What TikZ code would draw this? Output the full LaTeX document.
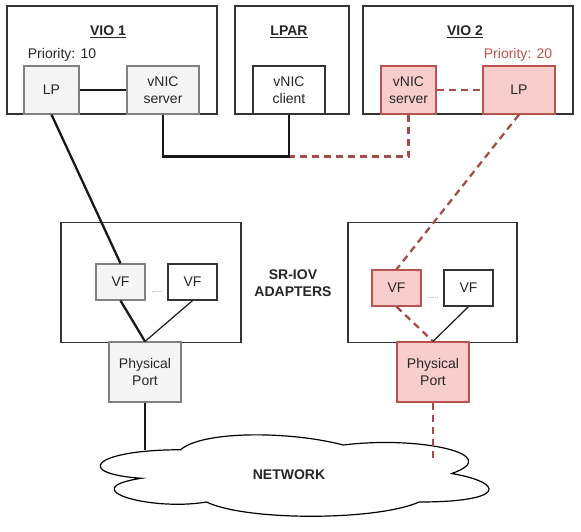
\documentclass[tikz,border=0pt]{standalone}
\usepackage{fontspec}
\setmainfont{Liberation Sans}
\usetikzlibrary{calc}
\definecolor{pinkfill}{HTML}{F8CECC}
\definecolor{pinkline}{HTML}{B85450}
\definecolor{grayfill}{HTML}{F5F5F5}
\definecolor{grayline}{HTML}{808080}

\begin{document}
\begin{tikzpicture}[x=1pt, y=-1pt, line width=1.2pt,
    every node/.style={font=\fontsize{14}{16.8}\selectfont, text=black!85, align=center, inner sep=0pt},
    box/.style 2 args={draw=black!80, minimum width=#1, minimum height=#2},
    graybox/.style={fill=grayfill, draw=grayline},
    pinkbox/.style={fill=pinkfill, draw=pinkline},
    title/.style={font=\fontsize{14}{16.8}\selectfont\bfseries},
    blackwire/.style={line width=2.3pt, black!90},
    redwire/.style={line width=2.3pt, pinkline!90!black, dash pattern=on 7pt off 5pt},
    thinwire/.style={line width=1.2pt, black!90}]
    \useasboundingbox (0,0) rectangle (581,531);

    % partitions
    \node[box={210}{108}] (vio1) at (112,60) {};
    \node[box={114}{108}] (lpar) at (292,60) {};
    \node[box={210}{108}] (vio2) at (468,60) {};
    \node[title] (vio1title) at (108,32) {\underline{VIO 1}};
    \node[title] (lpartitle) at (289,32) {\underline{LPAR}};
    \node[title] (vio2title) at (465,32) {\underline{VIO 2}};
    \node (prio1) at (62,55) {Priority: 10};
    \node[text=pinkline] (prio2) at (518,55) {Priority: 20};

    \node[box={55}{48}, graybox] (lp1) at (51.5,90) {LP};
    \node[box={72}{48}, graybox] (srv1) at (163,90) {vNIC\\server};
    \node[box={72}{48}] (client) at (289,90) {vNIC\\client};
    \node[box={55}{48}, pinkbox] (srv2) at (408.5,90) {vNIC\\server};
    \node[box={72}{48}, pinkbox] (lp2) at (519,90) {LP};

    % adapters
    \node[box={180}{120}] (adapter1) at (151,282.5) {};
    \node[box={169}{120}] (adapter2) at (432.5,282.5) {};
    \node[title] (sriov) at (293,283) {SR-IOV\\ADAPTERS};

    \node[box={49}{36}, graybox] (vf1) at (120.5,282) {VF};
    \node[box={49}{36}] (vf1b) at (192.5,282) {VF};
    \node[box={49}{36}, pinkbox] (vf2) at (396.5,288) {VF};
    \node[box={49}{36}] (vf2b) at (468.5,288) {VF};
    \node[font=\fontsize{8}{8}\selectfont, text=gray] (dots1) at (157,292) {.....};
    \node[font=\fontsize{8}{8}\selectfont, text=gray] (dots2) at (433,298) {.....};

    \node[box={72}{60}, graybox] (port1) at (145,372) {Physical\\Port};
    \node[box={72}{60}, pinkbox] (port2) at (433,372) {Physical\\Port};

    % network cloud
    \begin{scope}[shift={(72,426)}, x=434pt, y=-95pt]
        \draw[line width=1.2pt, fill=white] (0.25,0.25)
            .. controls (0.05,0.25) and (0,0.5) .. (0.16,0.55)
            .. controls (0,0.66) and (0.18,0.9) .. (0.31,0.8)
            .. controls (0.4,1) and (0.7,1) .. (0.8,0.8)
            .. controls (1,0.8) and (1,0.6) .. (0.875,0.5)
            .. controls (1,0.3) and (0.8,0.1) .. (0.625,0.2)
            .. controls (0.5,0.05) and (0.3,0.05) .. (0.25,0.25) -- cycle;
    \end{scope}
    \node[title] (net) at (289,475) {NETWORK};
    \coordinate (netL) at (145,450);
    \coordinate (netR) at (433,458);

    % links
    \draw[redwire] (srv2.east) -- (lp2.west);
    \draw[redwire] (srv2.south) -- ++(0,42) -| (client.south);
    \draw[redwire] (lp2.south) -- (vf2.north);
    \draw[redwire] (vf2.south) -- (port2.north);
    \draw[redwire] (port2.south) -- (netR);
    \draw[thinwire] (vf2b.south) -- (port2.north);

    \draw[blackwire] (lp1.east) -- (srv1.west);
    \draw[blackwire] (srv1.south) -- ++(0,42) -| (client.south);
    \draw[blackwire] (lp1.south) -- (vf1.north);
    \draw[blackwire] (vf1.south) -- (port1.north);
    \draw[blackwire] (port1.south) -- (netL);
    \draw[thinwire] (vf1b.south) -- (port1.north);
\end{tikzpicture}
\end{document}
